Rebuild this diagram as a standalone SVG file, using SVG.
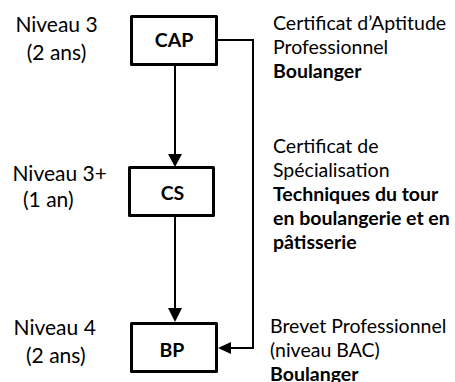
<svg xmlns="http://www.w3.org/2000/svg" width="455" height="382" viewBox="0 0 455 382">
<style>
text{font-family:Lato,"Open Sans","DejaVu Sans",sans-serif;fill:#000}
.lvl{font-size:21px}
.desc{font-size:19.5px}
.b{font-weight:bold}
.lab{font-size:19.5px;font-weight:bold;text-anchor:middle}
.box{fill:#fff;stroke:#000;stroke-width:3;stroke-linejoin:round}
.con{fill:none;stroke:#000;stroke-width:2}
.ah{fill:#000}
</style>
<rect width="455" height="382" fill="#fff"/>
<g id="connectors">
<line class="con" x1="175" y1="66" x2="175" y2="156"/>
<polygon class="ah" points="168,154 182,154 175,167"/>
<line class="con" x1="175" y1="217" x2="175" y2="310"/>
<polygon class="ah" points="168,308 182,308 175,322"/>
<polyline class="con" points="218,40 253,40 253,348 229,348"/>
<polygon class="ah" points="231,342 231,354 218,348"/>
</g>
<g id="cap">
<rect class="box" x="131.5" y="16.5" width="85" height="48"/>
<text class="lab" x="174" y="47">CAP</text>
</g>
<g id="cs">
<rect class="box" x="129.5" y="167.5" width="84" height="48"/>
<text class="lab" x="172.5" y="200">CS</text>
</g>
<g id="bp">
<rect class="box" x="131.5" y="323.5" width="85" height="48"/>
<text class="lab" x="172" y="357">BP</text>
</g>
<g id="level-cap">
<text class="lvl" x="56.5" y="32" text-anchor="middle">Niveau 3</text>
<text class="lvl" x="56.5" y="60" text-anchor="middle">(2 ans)</text>
</g>
<g id="level-cs">
<text class="lvl" x="59.7" y="181" text-anchor="middle">Niveau 3+</text>
<text class="lvl" x="23" y="207">(1 an)</text>
</g>
<g id="level-bp">
<text class="lvl" x="54.7" y="335" text-anchor="middle">Niveau 4</text>
<text class="lvl" x="55.8" y="363" text-anchor="middle">(2 ans)</text>
</g>
<g id="desc-cap">
<text class="desc" x="273" y="30">Certificat d’Aptitude</text>
<text class="desc" x="273" y="54">Professionnel</text>
<text class="desc b" x="273" y="78">Boulanger</text>
</g>
<g id="desc-cs">
<text class="desc" x="273" y="153">Certificat de</text>
<text class="desc" x="273" y="177">Spécialisation</text>
<text class="desc b" x="273" y="201">Techniques du tour</text>
<text class="desc b" x="273" y="225">en boulangerie et en</text>
<text class="desc b" x="273" y="249">pâtisserie</text>
</g>
<g id="desc-bp">
<text class="desc" x="270" y="333">Brevet Professionnel</text>
<text class="desc" x="270" y="357">(niveau BAC)</text>
<text class="desc b" x="270" y="381">Boulanger</text>
</g>
</svg>
